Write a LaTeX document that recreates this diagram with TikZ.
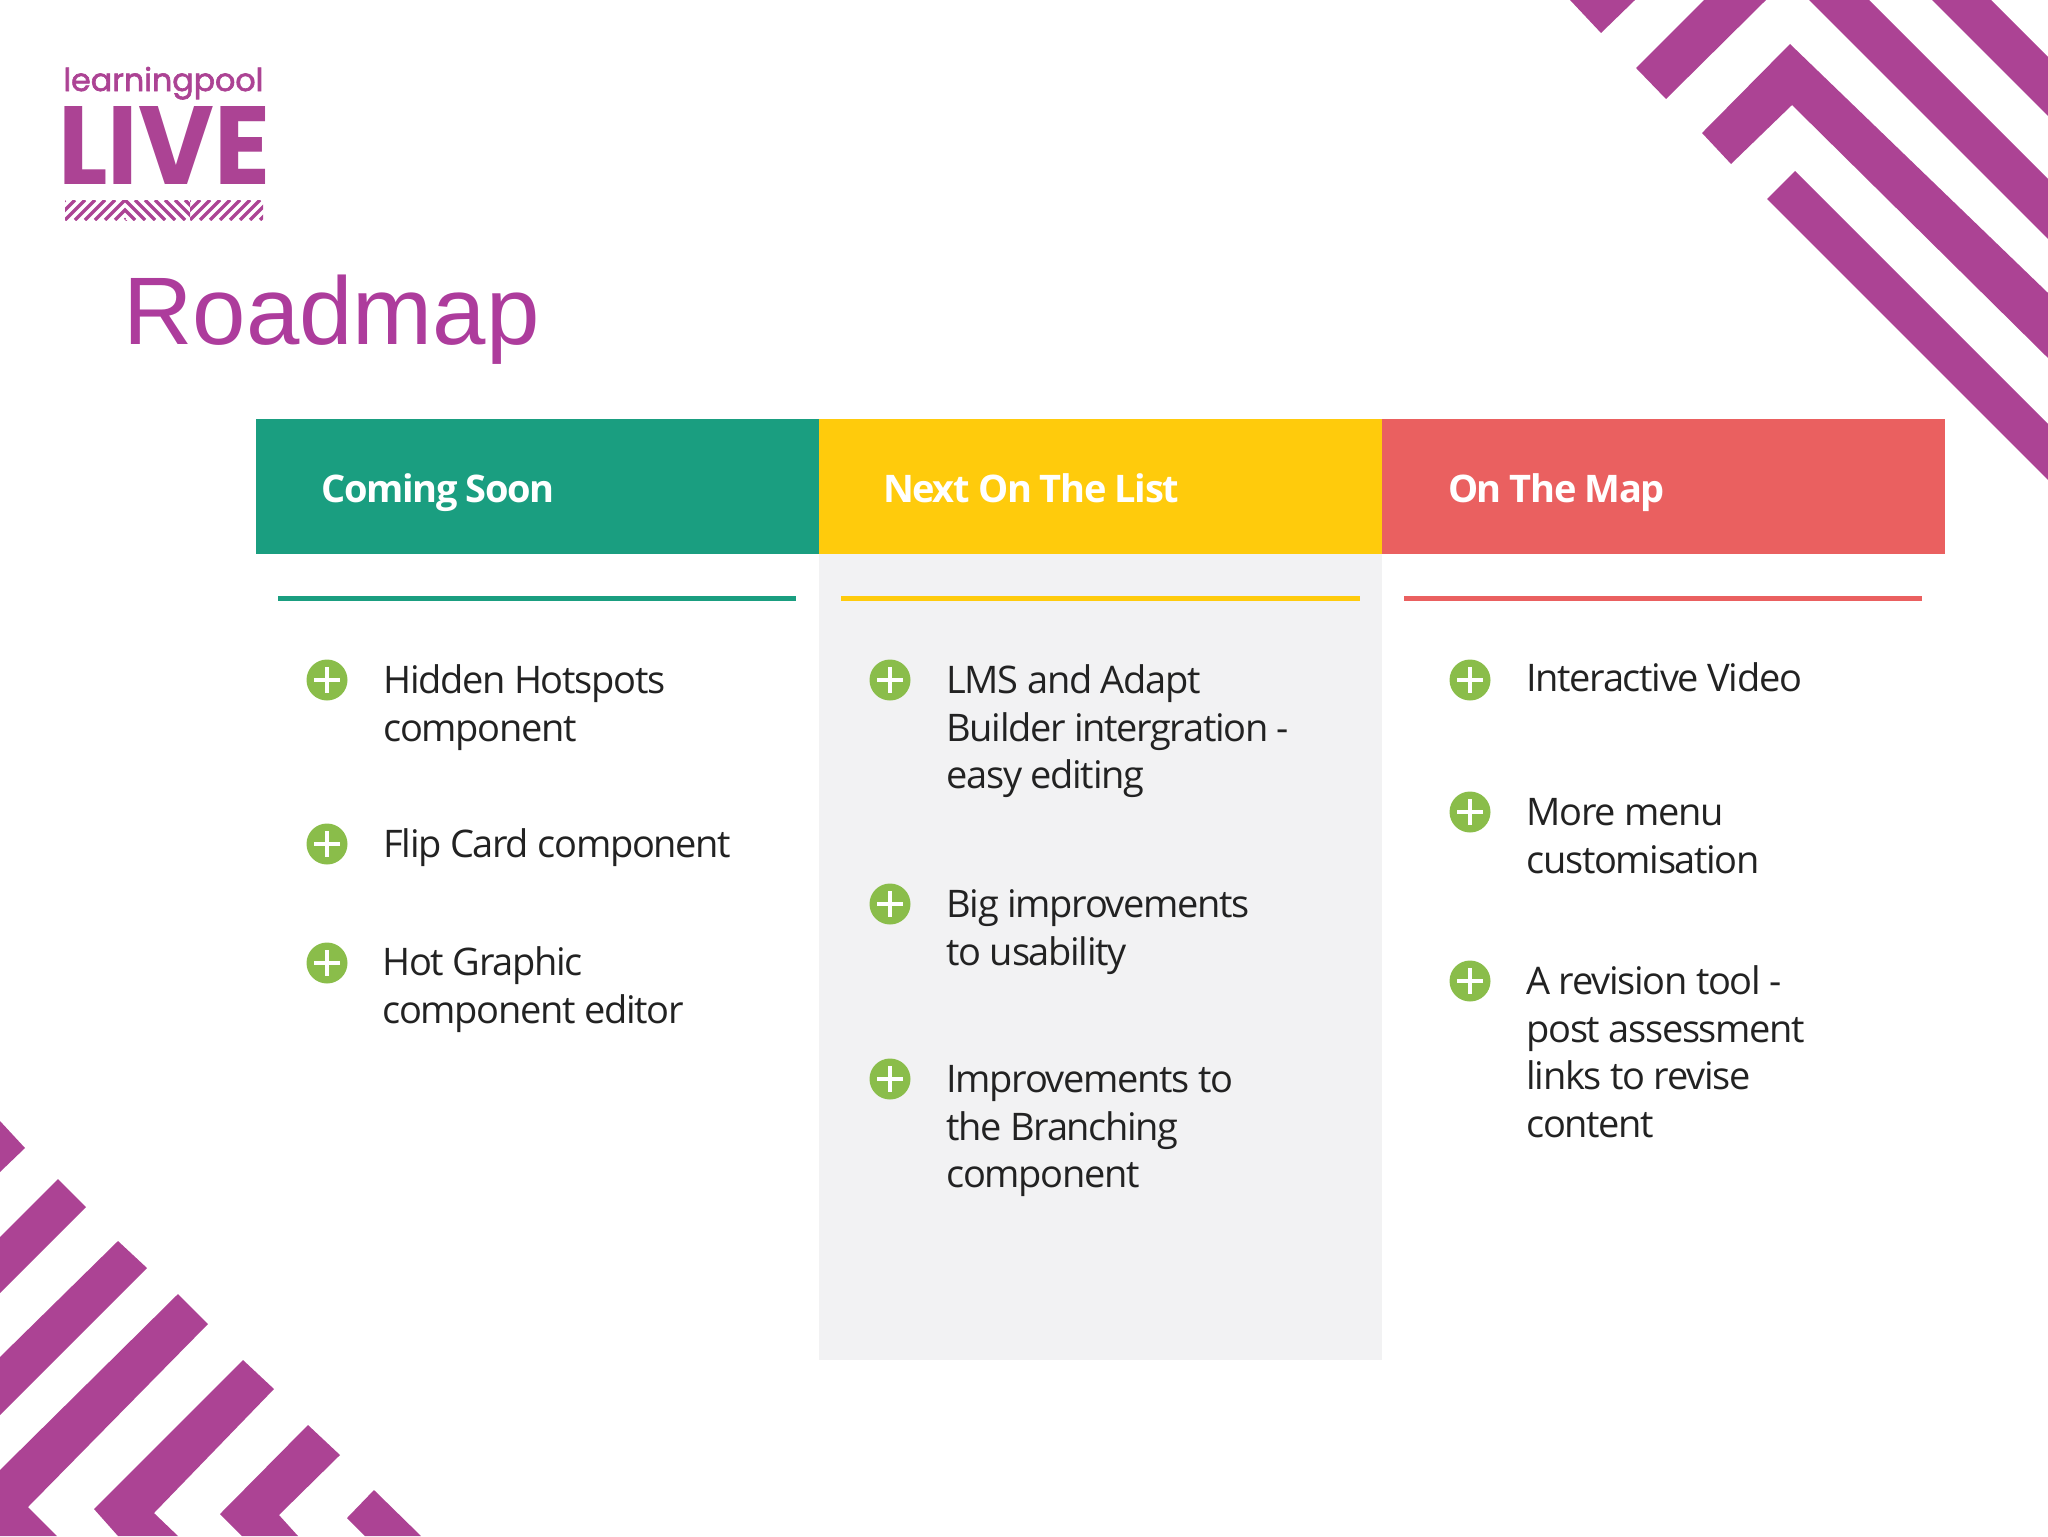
\documentclass[tikz,border=0pt]{standalone}
\usepackage{fontspec}
\setmainfont{Liberation Sans}
\newfontfamily\bodyfont[LetterSpace=-3.5]{Open Sans}
\newfontfamily\headfont[LetterSpace=-3.5]{Open Sans}
\newfontfamily\logofont{Poppins}
\newfontfamily\logolight[FakeBold=2]{Poppins}
\newcommand\hsp{\hspace{4pt}}
\definecolor{stripe}{HTML}{AC4394}
\definecolor{titlec}{HTML}{AD3C9C}
\definecolor{teal}{HTML}{1A9E80}
\definecolor{amber}{HTML}{FFCB0C}
\definecolor{coral}{HTML}{EA6060}
\definecolor{panel}{HTML}{F2F2F3}
\definecolor{plusgreen}{HTML}{8ABD4A}
\definecolor{bodyc}{HTML}{222222}
\tikzset{
  headbar/.style={rectangle,minimum width=281.5pt,minimum height=67.5pt,inner xsep=33pt,inner ysep=0pt,text width=215.5pt,text height=20pt,text depth=4pt,align=left,text=white,font=\headfont\bfseries\fontsize{19}{23}\selectfont},
  rulebar/.style={line width=2.5pt},
  plusicon/.style={circle,fill=plusgreen,minimum size=20.5pt,inner sep=0pt,
    path picture={\draw[white,line width=1.9pt] ([xshift=-6.3pt]path picture bounding box.center) -- ([xshift=6.3pt]path picture bounding box.center) ([yshift=-6.3pt]path picture bounding box.center) -- ([yshift=6.3pt]path picture bounding box.center);}},
  itemtext/.style={anchor=north west,inner sep=0pt,align=left,text=bodyc,font=\bodyfont\fontsize{19}{23.75}\selectfont},
  stripeshape/.style={fill=stripe},
}
\begin{document}
\begin{tikzpicture}[x=0.5pt,y=-0.5pt]
\useasboundingbox (0,0) rectangle (2048,1536);
% top-right stripes
\fill[stripeshape] (1570,0)--(1601,33)--(1635,0)--cycle;
\fill[stripeshape] (1704,0)--(1636,68)--(1666,99)--(1766,0)--cycle;
\fill[stripeshape] (1790,44)--(1702,133)--(1731,164)--(1792,105)--(2048,358)--(2048,293)--cycle;
\fill[stripeshape] (1795,171)--(1767,199)--(2048,480)--(2048,424)--cycle;
\fill[stripeshape] (1809,0)--(1869,0)--(2048,179)--(2048,239)--cycle;
\fill[stripeshape] (1932,0)--(1991,0)--(2048,57)--(2048,116)--cycle;
% bottom-left stripes
\fill[stripeshape] (0,1121)--(25,1148)--(0,1172)--cycle;
\fill[stripeshape] (58,1179)--(86,1207)--(0,1293)--(0,1237)--cycle;
\fill[stripeshape] (118,1241)--(147,1268)--(0,1415)--(0,1357)--cycle;
\fill[stripeshape] (178,1294)--(208,1324)--(28,1507)--(57,1536)--(0,1536)--(0,1470)--cycle;
\fill[stripeshape] (243,1360)--(274,1389)--(154,1513)--(178,1536)--(118,1536)--(94,1509)--cycle;
\fill[stripeshape] (308,1425)--(340,1455)--(279,1515)--(298,1536)--(242,1536)--(220,1514)--cycle;
\fill[stripeshape] (374,1490)--(347,1518)--(365,1536)--(421,1536)--cycle;
% logo
\node[anchor=base west,inner sep=0pt,text=stripe] (logotop) at (63,91) {\resizebox{100pt}{!}{\logolight learningpool}};
\node[anchor=south west,inner sep=0pt,text=stripe] (logolive) at (58,185) {\resizebox{106pt}{39pt}{\logofont\bfseries LIVE}};
\begin{scope}
\clip (65,200) rectangle (263,220);
\foreach \x in {45,55,...,125} \draw[stripe,line width=1.6pt] (\x,220)--(\x+20,200);
\end{scope}
\begin{scope}
\clip (125,200) rectangle (190,220);
\fill[white] (125,200) rectangle (190,220);
\foreach \x in {105,115,...,195} \draw[stripe,line width=1.6pt] (\x,200)--(\x+20,220);
\end{scope}
\begin{scope}
\clip (190,200) rectangle (263,220);
\foreach \x in {170,180,...,265} \draw[stripe,line width=1.6pt] (\x,220)--(\x+20,200);
\end{scope}
% title
\node[anchor=base west,inner sep=0pt,text=titlec,font=\fontsize{48}{58}\selectfont] (title) at (123,344) {Roadmap};
% panel
\fill[panel] (819,554) rectangle (1382,1360);
% header bars
\node[headbar,fill=teal] (h1) at (537,486.5) {Coming\hsp Soon};
\node[headbar,fill=amber,inner xsep=32pt,text width=217.5pt] (h2) at (1100.5,486.5) {Next\hsp On\hsp The\hsp List};
\node[headbar,fill=coral] (h3) at (1663.5,486.5) {On\hsp The\hsp Map};
% rules
\draw[rulebar,teal] (278,598) -- (796,598);
\draw[rulebar,amber] (841,598) -- (1360,598);
\draw[rulebar,coral] (1404,598) -- (1922,598);
% column 1
\node[plusicon] (i11) at (327,680) {};
\node[itemtext] (t11) at (383,660) {\strut Hidden Hotspots\\component};
\node[plusicon] (i12) at (327,844) {};
\node[itemtext] (t12) at (383,824) {\strut Flip Card component};
\node[plusicon] (i13) at (327,963) {};
\node[itemtext] (t13) at (382,942) {\strut Hot Graphic\\component editor};
% column 2
\node[plusicon] (i21) at (890,680) {};
\node[itemtext] (t21) at (946,660) {\strut LMS and Adapt\\Builder intergration -\\easy editing};
\node[plusicon] (i22) at (890,904) {};
\node[itemtext] (t22) at (946,884) {\strut Big improvements\\to usability};
\node[plusicon] (i23) at (890,1079) {};
\node[itemtext] (t23) at (946,1059) {\strut Improvements to\\the Branching\\component};
% column 3
\node[plusicon] (i31) at (1470,680) {};
\node[itemtext] (t31) at (1526,658) {\strut Interactive Video};
\node[plusicon] (i32) at (1470,812) {};
\node[itemtext] (t32) at (1526,792) {\strut More menu\\customisation};
\node[plusicon] (i33) at (1470,981) {};
\node[itemtext] (t33) at (1526,961) {\strut A revision tool -\\post assessment\\links to revise\\content};
\end{tikzpicture}
\end{document}
